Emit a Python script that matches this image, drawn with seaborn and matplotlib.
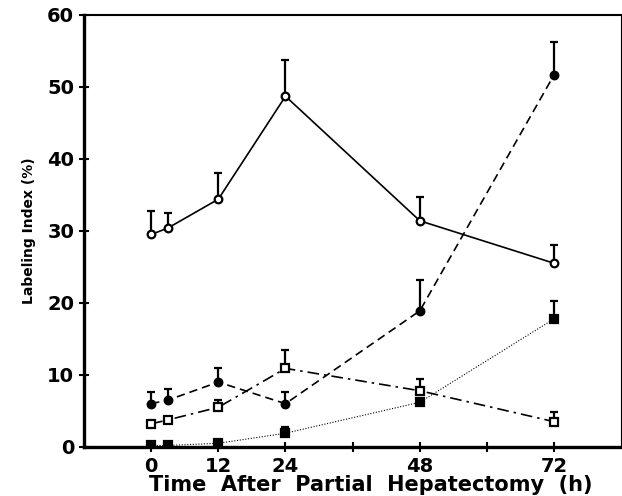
"""
Labeling index after partial hepatectomy
"""
import numpy as np
import pandas as pd
import matplotlib
matplotlib.use("Agg")
import matplotlib.pyplot as plt
import seaborn as sns

# time points (h)
hours = [0, 3, 12, 24, 48, 72]

# open circles, solid line
open_circle = [29.5, 30.4, 34.4, 48.7, 31.4, 25.5]
open_circle_err = [3.3, 2.1, 3.6, 5.1, 3.3, 2.6]

# filled circles, dashed line
filled_circle = [6.0, 6.5, 9.0, 6.0, 18.9, 51.7]
filled_circle_err = [1.6, 1.5, 1.9, 1.6, 4.3, 4.5]

# open squares, dash-dot line
open_square = [3.2, 3.75, 5.5, 10.9, 7.8, 3.5]
open_square_err = [0.0, 0.0, 1.0, 2.5, 1.6, 1.4]

# filled squares, dotted line
filled_square = [0.2, 0.2, 0.5, 1.9, 6.2, 17.8]
filled_square_err = [0.0, 0.0, 0.0, 0.9, 0.0, 2.5]

x_ticks = [0, 12, 24, 36, 48, 60, 72]
x_tick_labels = ["0", "12", "24", "", "48", "", "72"]
y_ticks = [0, 10, 20, 30, 40, 50, 60]

sns.set_style("ticks")
plt.rcParams['font.family'] = ['DejaVu Sans']
plt.rcParams['text.color'] = 'black'
plt.rcParams['axes.labelcolor'] = 'black'

fig = plt.figure(figsize=(6.22, 4.96), dpi=100)
ax = fig.add_axes([0.135, 0.099, 0.864, 0.871])

series = [
    (open_circle, open_circle_err, "o", "white", "-"),
    (filled_circle, filled_circle_err, "o", "black", (0, (5, 3))),
    (open_square, open_square_err, "s", "white", (0, (7, 3, 1.5, 3))),
    (filled_square, filled_square_err, "s", "black", (0, (1, 1.5))),
]

for vals, err, mk, face, ls in series:
    df = pd.DataFrame({"t": hours, "v": vals})
    lw = 0.8 if ls == (0, (1, 1.5)) else 1.2
    ax.errorbar(df["t"], df["v"], yerr=[np.zeros(len(err)), err],
                fmt="none", ecolor="black", elinewidth=1.6, capsize=3,
                capthick=1.6, zorder=2)
    sns.lineplot(data=df, x="t", y="v", ax=ax, color="black", linewidth=lw,
                 linestyle=ls, marker=mk, markersize=5.5, markerfacecolor=face,
                 markeredgecolor="black", markeredgewidth=1.6, zorder=3)

ax.set_xlim(-12, 84)
ax.set_ylim(0, 60)
ax.set_xticks(x_ticks)
ax.set_xticklabels(x_tick_labels)
ax.set_yticks(y_ticks)
ax.tick_params(direction="inout", length=7, width=1.5, labelsize=14,
               colors="black")
for lab in ax.get_xticklabels() + ax.get_yticklabels():
    lab.set_fontweight("bold")

ax.spines["left"].set_linewidth(2.4)
ax.spines["bottom"].set_linewidth(2.4)
ax.spines["top"].set_linewidth(1.5)
ax.spines["right"].set_linewidth(0.8)
for s in ax.spines.values():
    s.set_color("black")

xl = ax.set_xlabel("Time  After  Partial  Hepatectomy  (h)", fontsize=15,
                   fontweight="bold")
xl.set_verticalalignment("center")
ax.xaxis.set_label_coords(0.534, -0.088)
ax.set_ylabel("Labeling Index (%)", fontsize=10, fontweight="bold",
              family=['Liberation Sans Narrow', 'DejaVu Sans'], labelpad=8)

fig.savefig("out.png", dpi=100)
